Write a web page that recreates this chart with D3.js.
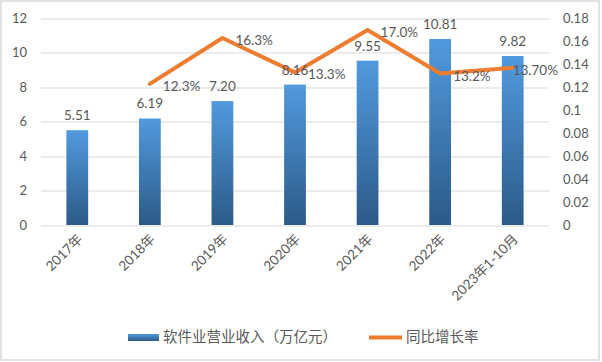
<!DOCTYPE html>
<html>
<head>
<meta charset="utf-8">
<script src="https://cdn.jsdelivr.net/npm/d3@7"></script>
<style>
  body { margin: 0; background: #fff; }
  text { font-family: Lato, "Noto Sans CJK SC", sans-serif; fill: #595959; }
  .grid line { stroke: #d9d9d9; stroke-width: 1; }
</style>
</head>
<body>
<div id="chart"></div>
<script>
// chart data
var categories = ["2017年", "2018年", "2019年", "2020年", "2021年", "2022年", "2023年1-10月"];
var revenue = [5.51, 6.19, 7.20, 8.16, 9.55, 10.81, 9.82];
var growth = [null, 0.123, 0.163, 0.133, 0.170, 0.132, 0.137];
var growthLabels = [null, "12.3%", "16.3%", "13.3%", "17.0%", "13.2%", "13.70%"];
var leftTicks = [0, 2, 4, 6, 8, 10, 12];
var rightTicks = [0, 0.02, 0.04, 0.06, 0.08, 0.1, 0.12, 0.14, 0.16, 0.18];
var seriesNames = ["软件业营业收入（万亿元）", "同比增长率"];

var W = 602, H = 362;
var margin = {top: 18.5, right: 53, bottom: 137, left: 41};
var width = W - margin.left - margin.right;
var height = H - margin.top - margin.bottom;

var svg = d3.select("#chart").append("svg")
  .attr("width", W)
  .attr("height", H);

//outer border
svg.append("rect")
  .attr("x", 1).attr("y", 1)
  .attr("width", W - 4).attr("height", H - 3)
  .attr("fill", "white")
  .attr("stroke", "#d9d9d9")
  .attr("stroke-width", 1.5);

var defs = svg.append("defs");
var grad = defs.append("linearGradient")
  .attr("id", "barGrad")
  .attr("x1", 0).attr("y1", 0).attr("x2", 0).attr("y2", 1);
grad.append("stop").attr("offset", "0%").attr("stop-color", "#519ade");
grad.append("stop").attr("offset", "100%").attr("stop-color", "#2c5a88");

var g = svg.append("g").attr("transform", "translate(" + margin.left + "," + margin.top + ")");

var x = d3.scaleBand().domain(categories).range([0, width]).paddingInner(0.7).paddingOuter(0.35);
var xc = function(d) { return x(d) + x.bandwidth() / 2; };
var y = d3.scaleLinear().domain([0, 12]).range([height, 0]);
var y2 = d3.scaleLinear().domain([0, 0.18]).range([height, 0]);

// gridlines
g.append("g")
  .attr("class", "grid")
  .selectAll("line")
  .data(leftTicks)
  .enter().append("line")
    .attr("x1", 0).attr("x2", width)
    .attr("y1", function(d) { return Math.round(y(d)) + 0.5; })
    .attr("y2", function(d) { return Math.round(y(d)) + 0.5; });

// left axis labels
g.append("g").selectAll("text")
  .data(leftTicks)
  .enter().append("text")
    .attr("x", -14)
    .attr("y", function(d) { return y(d) + 4.5; })
    .attr("text-anchor", "end")
    .style("font-size", "13px")
    .text(function(d) { return d; });

// right axis labels
g.append("g").selectAll("text")
  .data(rightTicks)
  .enter().append("text")
    .attr("x", width + 14)
    .attr("y", function(d) { return y2(d) + 4.5; })
    .style("font-size", "13px")
    .text(function(d) { return String(+d.toFixed(2)); });

// category labels
g.append("g").selectAll("text")
  .data(categories)
  .enter().append("text")
    .attr("transform", function(d) { return "translate(" + (xc(d) + 6) + "," + (height + 15) + ") rotate(-45)"; })
    .attr("text-anchor", "end")
    .style("font-size", "13.5px")
    .text(function(d) { return d; });

// bars
g.append("g").selectAll("rect")
  .data(revenue)
  .enter().append("rect")
    .attr("x", function(d, i) { return x(categories[i]); })
    .attr("y", function(d) { return y(d); })
    .attr("width", x.bandwidth())
    .attr("height", function(d) { return height - y(d); })
    .attr("fill", "url(#barGrad)");

// line
var pts = growth.map(function(v, i) { return {c: categories[i], v: v, lab: growthLabels[i]}; })
  .filter(function(d) { return d.v !== null; });

var line = d3.line()
  .x(function(d) { return xc(d.c); })
  .y(function(d) { return y2(d.v); });

g.append("path")
  .datum(pts)
  .attr("d", line)
  .attr("fill", "none")
  .attr("stroke", "#ed7d31")
  .attr("stroke-width", 4)
  .attr("stroke-linejoin", "round")
  .attr("stroke-linecap", "round");

// bar value labels
g.append("g").selectAll("text")
  .data(revenue)
  .enter().append("text")
    .attr("x", function(d, i) { return xc(categories[i]); })
    .attr("y", function(d) { return y(d) - 10; })
    .attr("text-anchor", "middle")
    .style("font-size", "13.5px")
    .text(function(d) { return d.toFixed(2); });

// growth labels, to the right of points, kept inside the chart
g.append("g").selectAll("text")
  .data(pts)
  .enter().append("text")
    .attr("y", function(d) { return y2(d.v) + 7; })
    .style("font-size", "13.5px")
    .text(function(d) { return d.lab; })
    .attr("x", function(d) {
      var w = this.getComputedTextLength();
      return Math.min(xc(d.c) + 13, width + 9 - w);
    });

// legend
var legend = svg.append("g");
legend.append("rect")
  .attr("x", 128).attr("y", 334)
  .attr("width", 31).attr("height", 7)
  .attr("fill", "url(#barGrad)");
legend.append("text")
  .attr("x", 163).attr("y", 342)
  .style("font-size", "14.5px")
  .text(seriesNames[0]);
legend.append("line")
  .attr("x1", 369).attr("x2", 402)
  .attr("y1", 337.5).attr("y2", 337.5)
  .attr("stroke", "#ed7d31")
  .attr("stroke-width", 4);
legend.append("text")
  .attr("x", 406).attr("y", 342)
  .style("font-size", "14.5px")
  .text(seriesNames[1]);
</script>
</body>
</html>
